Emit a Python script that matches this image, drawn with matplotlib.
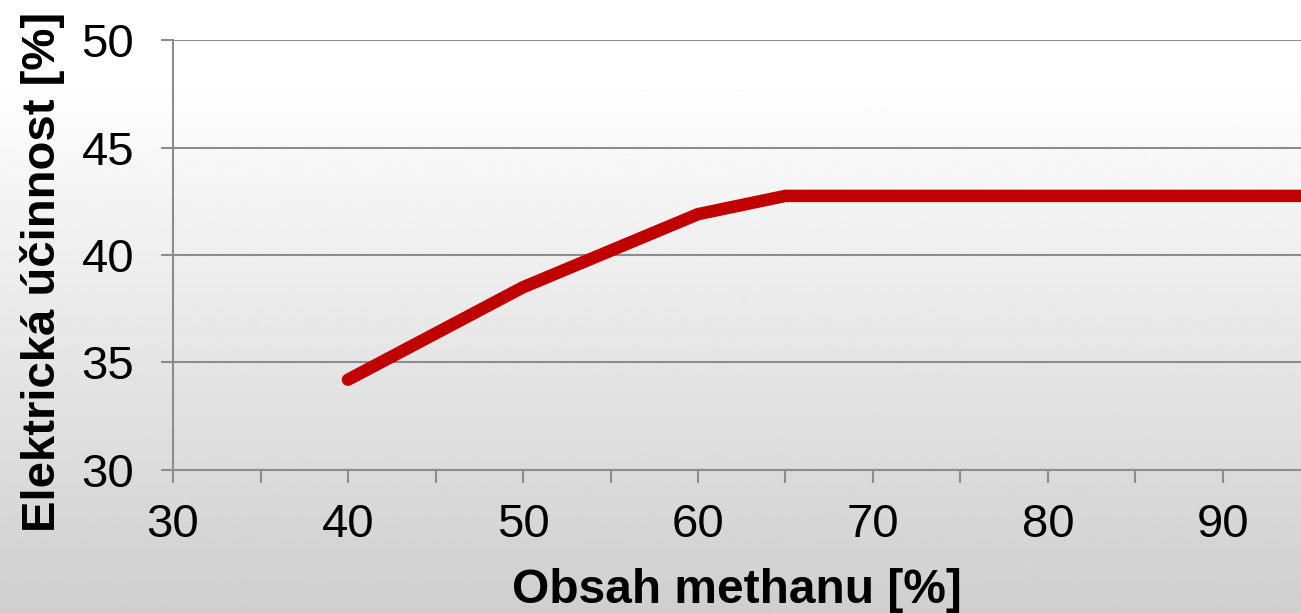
import numpy as np
import matplotlib
matplotlib.use("Agg")
import matplotlib.pyplot as plt
from matplotlib.ticker import MultipleLocator

plt.rcParams['font.family'] = ['Liberation Sans', 'DejaVu Sans']

# Electrical efficiency vs. methane content
methane = [40, 50, 60, 65, 70, 80, 90, 100]
efficiency = [34.2, 38.5, 41.9, 42.75, 42.75, 42.75, 42.75, 42.75]

x_label = "Obsah methanu [%]"
y_label = "Elektrická účinnost [%]"

fig = plt.figure(figsize=(13.01, 6.13), dpi=100)

# vertical background gradient: white at top, light grey at bottom
bg = fig.add_axes([0, 0, 1, 1], zorder=-10)
t = np.linspace(0, 1, 256)
shade = np.clip((t - 0.12) / 0.88, 0, 1)
vals = 1.0 - 0.19 * shade
bg.imshow(vals[:, None], aspect='auto', cmap='gray', vmin=0, vmax=1,
          extent=[0, 1, 1, 0], interpolation='bilinear')
bg.set_axis_off()

ax = fig.add_axes([0.133, 0.2333, 0.867, 0.7014])
ax.set_facecolor('none')

ax.plot(methane, efficiency, color='#C00000', linewidth=9,
        solid_capstyle='round', solid_joinstyle='miter', zorder=3)

ax.set_xlim(30, 94.46)
ax.set_ylim(30, 50)
ax.xaxis.set_major_locator(MultipleLocator(10))
ax.xaxis.set_minor_locator(MultipleLocator(5))
ax.yaxis.set_major_locator(MultipleLocator(5))

grid_col = '#8c8c8c'
ax.grid(axis='y', color=grid_col, linewidth=1.5, zorder=1)
for s in ['top', 'right']:
    ax.spines[s].set_visible(False)
for s in ['left', 'bottom']:
    ax.spines[s].set_color(grid_col)
    ax.spines[s].set_linewidth(1.5)

ax.tick_params(axis='both', which='both', direction='out', color=grid_col,
               width=1.5, length=9, labelsize=34, labelcolor='black')
ax.tick_params(axis='x', which='major', pad=15)
ax.tick_params(axis='y', which='major', pad=19)

ax.set_xlabel(x_label, fontsize=34.5, fontweight='bold', labelpad=15)
ax.set_ylabel(y_label, fontsize=34, fontweight='bold', labelpad=12)
ax.yaxis.label.set_y(0.46)

fig.savefig('out.png', dpi=100)
